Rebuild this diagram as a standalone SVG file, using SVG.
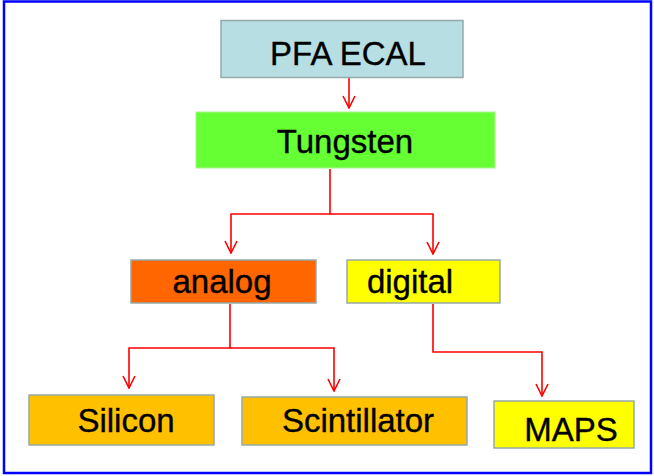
<svg xmlns="http://www.w3.org/2000/svg" width="654" height="476" viewBox="0 0 654 476">
<style>
.box{stroke:#95a9aa;stroke-width:1.5}
.t{font-family:"Liberation Sans",Arial,sans-serif;font-size:33px;fill:#000;stroke:#000;stroke-width:0.35;text-anchor:middle}
.c{fill:none;stroke:#ff0000;stroke-width:1.6}
</style>
<defs>
<marker id="ah" viewBox="0 0 14 14" refX="13" refY="7" markerWidth="14" markerHeight="14" markerUnits="userSpaceOnUse" orient="auto">
<path d="M1,1 L13,7 L1,13" fill="none" stroke="#ff0000" stroke-width="1.6"/>
</marker>
</defs>
<rect x="0" y="0" width="654" height="476" fill="#fff"/>
<rect x="4" y="1.5" width="647" height="471.5" fill="none" stroke="#0000ff" stroke-width="2.5"/>
<g id="connectors">
<path class="c" d="M349,78 V108" marker-end="url(#ah)"/>
<path class="c" d="M330,169 V214 H231 V253" marker-end="url(#ah)"/>
<path class="c" d="M330,214 H433 V254" marker-end="url(#ah)"/>
<path class="c" d="M230,304 V348 H129 V388" marker-end="url(#ah)"/>
<path class="c" d="M230,348 H334 V391" marker-end="url(#ah)"/>
<path class="c" d="M433,304 V352 H542 V396" marker-end="url(#ah)"/>
</g>
<g id="pfa-ecal">
<rect class="box" x="221" y="20.5" width="242" height="57" fill="#b7dee2"/>
<text class="t" x="348" y="65">PFA ECAL</text>
</g>
<g id="tungsten">
<rect x="196" y="112" width="299" height="56" fill="#66ff33" stroke="#a6f58a" stroke-width="1"/>
<text class="t" x="345" y="153">Tungsten</text>
</g>
<g id="analog">
<rect class="box" x="131" y="260" width="185" height="43" fill="#ff6600"/>
<text class="t" x="222" y="293">analog</text>
</g>
<g id="digital">
<rect class="box" x="347" y="260" width="153" height="43" fill="#ffff00"/>
<text class="t" x="410" y="293">digital</text>
</g>
<g id="silicon">
<rect class="box" x="29" y="395" width="185" height="50" fill="#ffc000"/>
<text class="t" x="126" y="432">Silicon</text>
</g>
<g id="scintillator">
<rect class="box" x="242" y="397" width="225" height="48" fill="#ffc000"/>
<text class="t" x="358" y="432">Scintillator</text>
</g>
<g id="maps">
<rect class="box" x="494" y="401" width="140" height="47" fill="#ffff00"/>
<text class="t" x="571" y="441">MAPS</text>
</g>
</svg>
